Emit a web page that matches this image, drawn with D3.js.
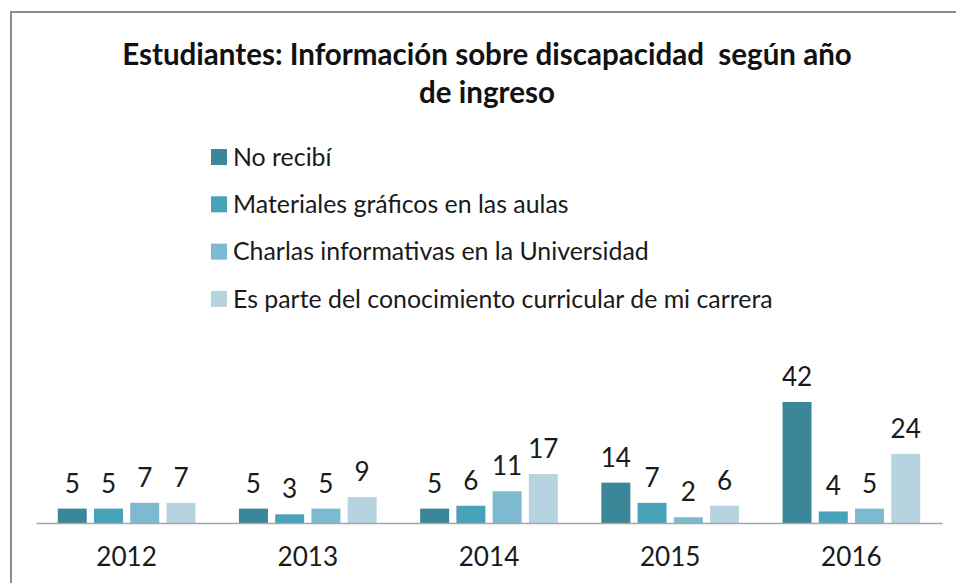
<!DOCTYPE html>
<html>
<head>
<meta charset="utf-8">
<script src="https://cdn.jsdelivr.net/npm/d3@7"></script>
<style>
  body { margin: 0; background: #fff; }
  svg { display: block; font-family: Lato, "Open Sans", sans-serif; }
</style>
</head>
<body>
<svg id="svg" width="956" height="583"></svg>
<script>
const years = ["2012", "2013", "2014", "2015", "2016"];
const series = [
  "No recibí",
  "Materiales gráficos en las aulas",
  "Charlas informativas en la Universidad",
  "Es parte del conocimiento curricular de mi carrera"
];
// values per series, in year order
const noRecibi = [5, 5, 5, 14, 42];
const materiales = [5, 3, 6, 7, 4];
const charlas = [7, 5, 11, 2, 5];
const curricular = [7, 9, 17, 6, 24];
const colors = ["#3b8699", "#48a2b9", "#7dbacf", "#b6d4df"];

const values = [noRecibi, materiales, charlas, curricular];
const svg = d3.select("#svg");

// frame
svg.append("rect")
  .attr("x", 11).attr("y", 12)
  .attr("width", 960).attr("height", 600)
  .attr("fill", "none")
  .attr("stroke", "#8c8c8c")
  .attr("stroke-width", 2);

// fit text to a width
function fit(sel, w) {
  const len = sel.node().getComputedTextLength();
  const fs = parseFloat(sel.attr("font-size"));
  sel.attr("font-size", fs * w / len);
}

// title
const t1 = svg.append("text")
  .attr("x", 487).attr("y", 65)
  .attr("text-anchor", "middle")
  .attr("font-size", 24).attr("font-weight", "bold")
  .attr("fill", "#111")
  .attr("xml:space", "preserve")
  .style("white-space", "pre")
  .text("Estudiantes: Información sobre discapacidad  según año");
fit(t1, 730);
svg.append("text")
  .attr("x", 487).attr("y", 103)
  .attr("text-anchor", "middle")
  .attr("font-size", t1.attr("font-size")).attr("font-weight", "bold")
  .attr("fill", "#111")
  .text("de ingreso");

// legend
const legend = svg.append("g").attr("transform", "translate(211, 157)");
const rows = legend.selectAll("g")
  .data(series)
  .join("g")
  .attr("transform", (d, i) => `translate(0, ${i * 47.3})`);
rows.append("rect")
  .attr("y", -8).attr("width", 16).attr("height", 16)
  .attr("fill", (d, i) => colors[i]);
rows.append("text")
  .attr("x", 22).attr("dy", "0.35em")
  .attr("font-size", 20)
  .attr("fill", "#1a1a1a")
  .text(d => d);
const lastLabel = rows.filter((d, i) => i === 3).select("text");
const legendSize = parseFloat(lastLabel.attr("font-size")) * 540 / lastLabel.node().getComputedTextLength();
rows.selectAll("text").attr("font-size", legendSize);

// scales
const x0 = d3.scaleBand().domain(years).range([36, 942]);
const x1 = d3.scaleBand()
  .domain(d3.range(series.length))
  .range([0, x0.bandwidth()])
  .paddingInner(0.2)
  .paddingOuter(0.6);
const y = d3.scaleLinear().domain([0, 42]).range([523, 402]);

const groups = svg.append("g")
  .selectAll("g")
  .data(years)
  .join("g")
  .attr("transform", d => `translate(${x0(d)},0)`);

const cells = groups.selectAll("g")
  .data((d, yi) => values.map((v, si) => ({ s: si, value: v[yi] })))
  .join("g");

cells.append("rect")
  .attr("x", d => x1(d.s))
  .attr("width", x1.bandwidth())
  .attr("y", d => y(d.value))
  .attr("height", d => y(0) - y(d.value))
  .attr("fill", d => colors[d.s]);

cells.append("text")
  .attr("x", d => x1(d.s) + x1.bandwidth() / 2)
  .attr("y", d => y(d.value) - 16)
  .attr("text-anchor", "middle")
  .attr("font-size", legendSize * 1.05)
  .attr("fill", "#1a1a1a")
  .text(d => d.value);

// axis
const xAxis = svg.append("g")
  .attr("transform", `translate(0, ${y(0)})`)
  .call(d3.axisBottom(x0).tickSize(0).tickPadding(24));
xAxis.select(".domain").attr("stroke", "#a6a6a6").attr("stroke-width", 1.5);
xAxis.selectAll("text")
  .attr("font-size", legendSize * 1.05)
  .attr("font-family", "Lato, 'Open Sans', sans-serif")
  .attr("fill", "#1a1a1a");
</script>
</body>
</html>
